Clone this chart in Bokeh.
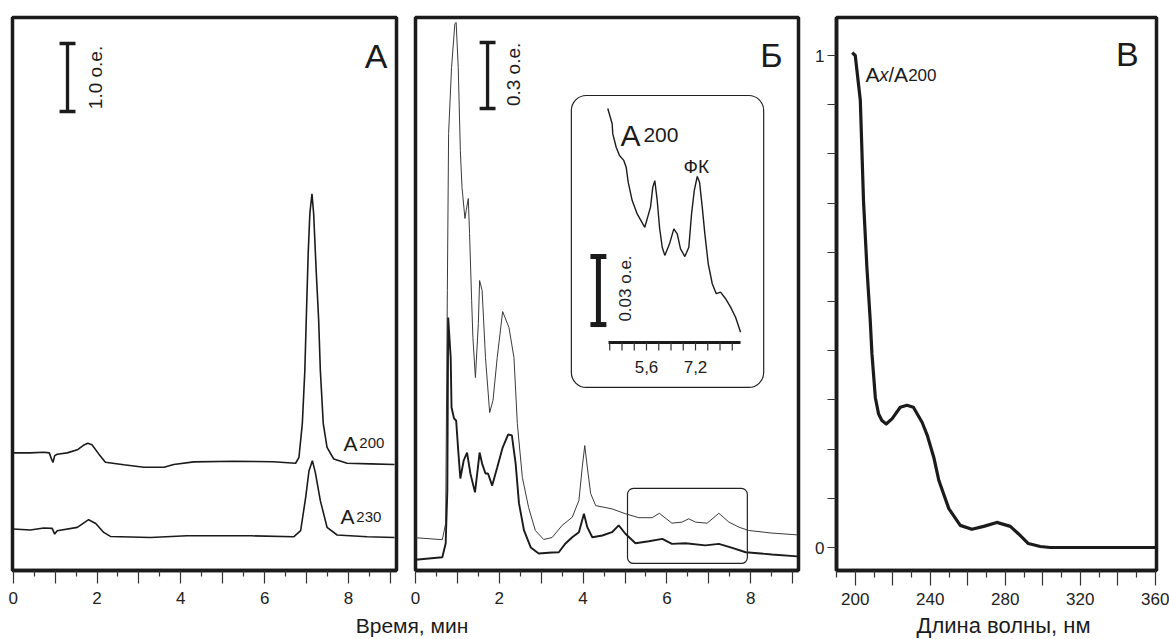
from bokeh.plotting import figure
from bokeh.models import Range1d, FixedTicker, Label, BoxAnnotation, GridBox
from bokeh.embed import file_html
from bokeh.resources import INLINE

FONT = "Liberation Sans"
INK = "#1b1b1b"

# ---------------- data ----------------
# Panel A: chromatogram at 200 nm and 230 nm (signal in o.e., relative to start baseline)
A_T200 = [0.0, 0.40, 0.73, 0.86, 0.92, 0.95, 0.99, 1.05, 1.29, 1.53, 1.70, 1.78, 1.88, 2.04, 2.20,
          2.64, 3.12, 3.60, 3.83, 4.31, 5.27, 6.20, 6.74, 6.82, 6.90, 6.96, 7.00, 7.04, 7.08, 7.13,
          7.17, 7.23, 7.29, 7.33, 7.40, 7.49, 7.65, 7.97, 8.53, 9.10]
A_S200 = [0.0, 0.0, 0.01, 0.0, -0.10, -0.14, -0.04, -0.02, 0.0, 0.045, 0.12, 0.142, 0.12, -0.015, -0.138,
          -0.176, -0.212, -0.212, -0.172, -0.132, -0.124, -0.13, -0.153, -0.065, 0.43, 1.21, 2.09, 2.93, 3.52, 3.81,
          3.52, 2.69, 1.95, 1.21, 0.43, 0.08, -0.09, -0.153, -0.162, -0.172]
A_T230 = [0.0, 0.41, 0.73, 0.93, 0.99, 1.05, 1.53, 1.80, 1.97, 2.16, 2.32, 3.28, 4.15, 5.67, 6.70,
          6.86, 6.98, 7.06, 7.14, 7.21, 7.33, 7.49, 7.73, 8.45, 9.10]
A_S230 = [0.0, -0.015, 0.015, 0.009, -0.074, -0.025, 0.024, 0.137, 0.082, -0.05, -0.109, -0.124, -0.10, -0.10, -0.113,
          -0.025, 0.466, 0.858, 1.005, 0.833, 0.417, 0.025, -0.088, -0.113, -0.124]
A_OFFSET200 = 1.73   # vertical stacking of the two traces, o.e.
A_OFFSET230 = 0.61
A_SCALE = 1.0        # scale bar, o.e.

# Panel Б: two chromatograms, o.e.
B_T_UP = [0.0, 0.64, 0.72, 0.76, 0.79, 0.86, 0.94, 0.97, 1.02, 1.07, 1.11, 1.18, 1.21, 1.26, 1.29, 1.34, 1.37,
          1.43, 1.50, 1.53, 1.59, 1.67, 1.77, 1.85, 1.95, 2.08, 2.23, 2.35, 2.43, 2.55, 2.70, 2.86, 3.06,
          3.26, 3.50, 3.74, 3.90, 3.98, 4.04, 4.10, 4.18, 4.30, 4.69, 5.01, 5.33, 5.65, 5.82, 6.12, 6.36,
          6.52, 6.68, 6.96, 7.24, 7.48, 7.72, 7.95, 8.51, 9.11]
B_V_UP = [0.149, 0.140, 0.214, 1.273, 1.986, 2.286, 2.486, 2.491, 2.286, 1.909, 1.741, 1.600, 1.636, 1.691, 1.532, 1.227, 1.059,
          0.877, 1.123, 1.318, 1.273, 0.968, 0.718, 0.773, 0.968, 1.177, 1.105, 0.968, 0.668, 0.423, 0.286, 0.182, 0.141,
          0.150, 0.205, 0.242, 0.318, 0.470, 0.568, 0.470, 0.350, 0.295, 0.280, 0.258, 0.240, 0.240, 0.260, 0.215, 0.220,
          0.235, 0.220, 0.215, 0.260, 0.220, 0.197, 0.182, 0.170, 0.162]
B_T_LO = [0.0, 0.64, 0.72, 0.76, 0.78, 0.84, 0.86, 0.92, 0.97, 1.02, 1.07, 1.15, 1.23, 1.31, 1.42, 1.50, 1.53,
          1.59, 1.67, 1.73, 1.83, 1.95, 2.08, 2.21, 2.30, 2.39, 2.47, 2.59, 2.75, 2.94, 3.26, 3.42, 3.58,
          3.74, 3.90, 4.02, 4.10, 4.22, 4.46, 4.69, 4.85, 5.01, 5.25, 5.57, 5.89, 6.12, 6.44, 6.92, 7.24,
          7.56, 7.88, 8.51, 9.11]
B_V_LO = [0.049, 0.060, 0.123, 0.364, 1.150, 0.968, 0.741, 0.691, 0.682, 0.545, 0.418, 0.500, 0.536, 0.441, 0.355, 0.486, 0.536,
          0.486, 0.441, 0.441, 0.386, 0.468, 0.559, 0.618, 0.614, 0.486, 0.305, 0.182, 0.105, 0.077, 0.082, 0.083, 0.123,
          0.151, 0.174, 0.258, 0.197, 0.151, 0.159, 0.174, 0.205, 0.167, 0.124, 0.133, 0.144, 0.121, 0.124, 0.114, 0.121,
          0.103, 0.083, 0.073, 0.064]
B_SCALE = 0.3
B_REGION_T = [5.06, 7.92]     # marked region that is enlarged in the inset
B_REGION_V = [0.032, 0.373]

# Inset: enlarged 200 nm trace
INSET_T = [4.335, 4.479, 4.499, 4.610, 4.718, 4.858, 4.937, 5.002, 5.133, 5.296, 5.544, 5.731, 5.806, 5.871,
           5.950, 6.025, 6.113, 6.198, 6.352, 6.492, 6.603, 6.711, 6.852, 6.982, 7.071, 7.159, 7.257, 7.332,
           7.420, 7.505, 7.616, 7.747, 7.878, 8.018, 8.182, 8.345, 8.508, 8.672]
INSET_V = [0.300, 0.2933, 0.2888, 0.2829, 0.2793, 0.2771, 0.2741, 0.2675, 0.2594, 0.2535, 0.2476, 0.2565, 0.2653, 0.2682,
           0.2594, 0.2476, 0.2388, 0.2352, 0.2403, 0.2469, 0.2447, 0.2381, 0.2347, 0.2388, 0.2535, 0.2638, 0.2700, 0.2675,
           0.2565, 0.2447, 0.2315, 0.2227, 0.2183, 0.2190, 0.2161, 0.2124, 0.2079, 0.2013]
INSET_TICKS = [4.4, 4.8, 5.2, 5.6, 6.0, 6.4, 6.8, 7.2, 7.6, 8.0, 8.4]
INSET_LABELS = {5.6: "5,6", 7.2: "7,2"}
INSET_AXIS = [4.36, 8.67]
INSET_SCALE = 0.03

# Panel В: absorbance ratio spectrum
WL = [198.4, 200, 202.7, 204.4, 206.2, 208.0, 208.9, 210.7, 212.4, 214.2, 216.5, 219.7, 224.0, 227.6, 231.0,
      235.7, 238.4, 241.9, 244.6, 249.9, 256.0, 262.2, 268.5, 275.5, 282.7, 287.0, 292.3, 298.7, 304.0, 330.0, 360.0]
RATIO = [1.006, 1.0, 0.909, 0.705, 0.570, 0.461, 0.394, 0.305, 0.272, 0.258, 0.251, 0.262, 0.285, 0.289, 0.285,
         0.254, 0.228, 0.183, 0.136, 0.079, 0.045, 0.037, 0.043, 0.051, 0.043, 0.028, 0.008, 0.002, 0.0, 0.0, 0.0]

TIME_TICKS = list(range(0, 10))
TIME_MINOR = [i + 0.5 for i in range(0, 9)]
TIME_LABELED = [0, 2, 4, 6, 8]
WL_TICKS = list(range(200, 361, 20))
WL_MINOR = list(range(190, 361, 20))
WL_LABELED = [200, 240, 280, 320, 360]
R_TICKS = [round(i / 10, 1) for i in range(11)]
R_LABELED = [0.0, 1.0]

# ---------------- layout ----------------
H, TOP, BOT = 639, 17, 69
FRAME_H = H - TOP - BOT


def make_fig(width, xr, yr, left, right, y_axis=None):
    p = figure(width=width, height=H, x_range=xr, y_range=yr, output_backend="svg",
               toolbar_location=None, y_axis_location=y_axis,
               min_border_left=left, min_border_right=right,
               min_border_top=TOP, min_border_bottom=BOT)
    p.grid.visible = False
    p.outline_line_color = INK
    p.outline_line_width = 3.5
    p.background_fill_color = "white"
    p.border_fill_color = "white"
    return p


def style_axis(ax, ticks, minor, labeled, tick_out, minor_out):
    ax.ticker = FixedTicker(ticks=ticks, minor_ticks=minor)
    ax.major_label_overrides = {t: "" for t in ticks if t not in labeled}
    ax.major_tick_in = 0
    ax.major_tick_out = tick_out
    ax.minor_tick_in = 0
    ax.minor_tick_out = minor_out
    ax.major_tick_line_color = "#333333"
    ax.minor_tick_line_color = "#333333"
    ax.major_tick_line_width = 1.2
    ax.minor_tick_line_width = 1.2
    ax.axis_line_color = INK
    ax.axis_line_width = 3.5
    ax.major_label_text_font = FONT
    ax.major_label_text_font_size = "17px"
    ax.major_label_text_color = "#222222"


def put(p, x, y, text, size, align="left", baseline="alphabetic", angle=0, style="normal", rng=None):
    kw = {}
    if rng:
        kw = dict(x_range_name=rng, y_range_name=rng)
    p.add_layout(Label(x=x, y=y, text=text, text_font=FONT, text_font_size=size,
                       text_align=align, text_baseline=baseline, angle=angle, angle_units="deg",
                       text_color=INK, text_font_style=style, **kw))


def scale_bar(p, x, y0, length, half_cap, width, rng="default"):
    p.segment(x0=[x, x - half_cap, x - half_cap], y0=[y0, y0, y0 + length],
              x1=[x, x + half_cap, x + half_cap], y1=[y0 + length, y0, y0 + length],
              line_color=INK, line_width=width, x_range_name=rng, y_range_name=rng)


def frame_box(p, l, r, b, t, radius):
    p.add_layout(BoxAnnotation(left=l, right=r, bottom=b, top=t, fill_color=None, fill_alpha=0,
                               line_color="#222222", line_alpha=1.0, line_width=1.2, border_radius=radius))


# ---- Panel A ----
PX_PER_MIN = 41.9
pa_frame_w = 405 - 12 - 9
pa = make_fig(405, Range1d(-0.017, -0.017 + pa_frame_w / PX_PER_MIN),
              Range1d(0, FRAME_H / 68.0), 12, 9)
style_axis(pa.xaxis[0], TIME_TICKS, TIME_MINOR, TIME_LABELED, 13, 6)
pa.xaxis[0].major_label_standoff = 8
pa.line(A_T200, [v + A_OFFSET200 for v in A_S200], line_color=INK, line_width=1.6)
pa.line(A_T230, [v + A_OFFSET230 for v in A_S230], line_color=INK, line_width=1.6)
scale_bar(pa, 1.296, 6.75, A_SCALE, 0.19, 3.3)
put(pa, 1.966, 7.25, "1.0 о.е.", "19px", align="center", baseline="middle", angle=90)
put(pa, 8.93, 7.57, "А", "34px", align="right")
put(pa, 7.88, 1.868, "A", "21px")
put(pa, 8.26, 1.868, "200", "15px")
put(pa, 7.81, 0.794, "A", "21px")
put(pa, 8.19, 0.794, "230", "15px")

# ---- Panel Б ----
pb_frame_w = 403 - 10 - 10
pb = make_fig(403, Range1d(0, pb_frame_w / PX_PER_MIN), Range1d(0, FRAME_H / 220.0), 10, 10)
style_axis(pb.xaxis[0], TIME_TICKS, TIME_MINOR, TIME_LABELED, 13, 6)
pb.xaxis[0].major_label_standoff = 8
pb.line(B_T_UP, B_V_UP, line_color="#3a3a3a", line_width=1.0)
pb.line(B_T_LO, B_V_LO, line_color=INK, line_width=1.9)
scale_bar(pb, 1.72, 2.10, B_SCALE, 0.19, 3.3)
put(pb, 2.34, 2.255, "0.3 о.е.", "19px", align="center", baseline="middle", angle=90)
put(pb, 8.76, 2.345, "Б", "34px", align="right")
frame_box(pb, B_REGION_T[0], B_REGION_T[1], B_REGION_V[0], B_REGION_V[1], 6)
frame_box(pb, 3.72, 8.31, 0.832, 2.159, 15)

# inset coordinate system placed inside the Б frame (pixels relative to frame)
INSET_PX_PER_MIN = 30.63
INSET_PX_PER_OE = 2267.0
inset_ref_t, inset_ref_px = 5.6, 231.0          # 5.6 min sits 231 px from frame left
inset_ref_v, inset_ref_py = 0.30, 91.0          # 0.30 o.e. sits 91 px below frame top
ix0 = inset_ref_t - inset_ref_px / INSET_PX_PER_MIN
iy1 = inset_ref_v + inset_ref_py / INSET_PX_PER_OE
pb.extra_x_ranges = {"inset": Range1d(ix0, ix0 + pb_frame_w / INSET_PX_PER_MIN)}
pb.extra_y_ranges = {"inset": Range1d(iy1 - FRAME_H / INSET_PX_PER_OE, iy1)}
pb.line(INSET_T, INSET_V, line_color=INK, line_width=1.4, x_range_name="inset", y_range_name="inset")
axis_v = 0.1968
pb.segment(x0=[INSET_AXIS[0]], y0=[axis_v], x1=[INSET_AXIS[1]], y1=[axis_v], line_color=INK, line_width=3,
           x_range_name="inset", y_range_name="inset")
tick_len = 8 / INSET_PX_PER_OE
pb.segment(x0=INSET_TICKS, y0=[axis_v] * len(INSET_TICKS), x1=INSET_TICKS,
           y1=[axis_v - tick_len] * len(INSET_TICKS), line_color="#333333", line_width=1.2,
           x_range_name="inset", y_range_name="inset")
for tv, lab in INSET_LABELS.items():
    put(pb, tv, 0.1858, lab, "17px", align="center", baseline="middle", rng="inset")
scale_bar(pb, 4.03, 0.2047, INSET_SCALE, 0.26, 5, rng="inset")
put(pb, 4.914, 0.2206, "0.03 о.е.", "17px", align="center", baseline="middle", angle=90, rng="inset")
put(pb, 4.751, 0.2881, "A", "30px", rng="inset")
put(pb, 5.50, 0.2881, "200", "21px", rng="inset")
put(pb, 6.808, 0.2744, "ФК", "19px", rng="inset")

# ---- Panel В ----
pc = make_fig(361, Range1d(190, 190 + 320 / 1.875), Range1d(-23 / 492.0, 530 / 492.0), 28, 13, y_axis="left")
style_axis(pc.xaxis[0], WL_TICKS, WL_MINOR, WL_LABELED, 15, 7)
pc.xaxis[0].major_label_standoff = 7
style_axis(pc.yaxis[0], R_TICKS, [], R_LABELED, 9, 0)
pc.yaxis[0].major_label_standoff = 3
pc.yaxis[0].major_label_overrides = {t: ("" if t not in R_LABELED else ("1" if t == 1.0 else "0")) for t in R_TICKS}
pc.line(WL, RATIO, line_color=INK, line_width=3.2, line_join="round")
put(pc, 351.1, 1.004, "В", "34px", align="right")
put(pc, 205.5, 0.961, "A", "21px")
put(pc, 212.9, 0.961, "x", "18px", style="italic")
put(pc, 217.7, 0.961, "/", "20px")
put(pc, 220.7, 0.961, "A", "21px")
put(pc, 228.2, 0.961, "200", "17px")

# ---- overlay for axis titles spanning panels ----
ov = figure(width=1169, height=H, x_range=Range1d(0, 1169), y_range=Range1d(H, 0),
            output_backend="svg", toolbar_location=None, x_axis_location=None, y_axis_location=None,
            min_border_left=0, min_border_right=0, min_border_top=0, min_border_bottom=0)
ov.frame_align = False
ov.grid.visible = False
ov.outline_line_color = None
ov.background_fill_color = None
ov.border_fill_color = None
put(ov, 411.5, 625, "Время, мин", "21px", align="center", baseline="middle")
put(ov, 1003, 625, "Длина волны, нм", "22px", align="center", baseline="middle")

layout = GridBox(children=[(pa, 0, 0), (pb, 0, 1), (pc, 0, 2), (ov, 0, 0, 1, 3)], spacing=0)

open("out.html", "w").write(file_html(layout, INLINE))
